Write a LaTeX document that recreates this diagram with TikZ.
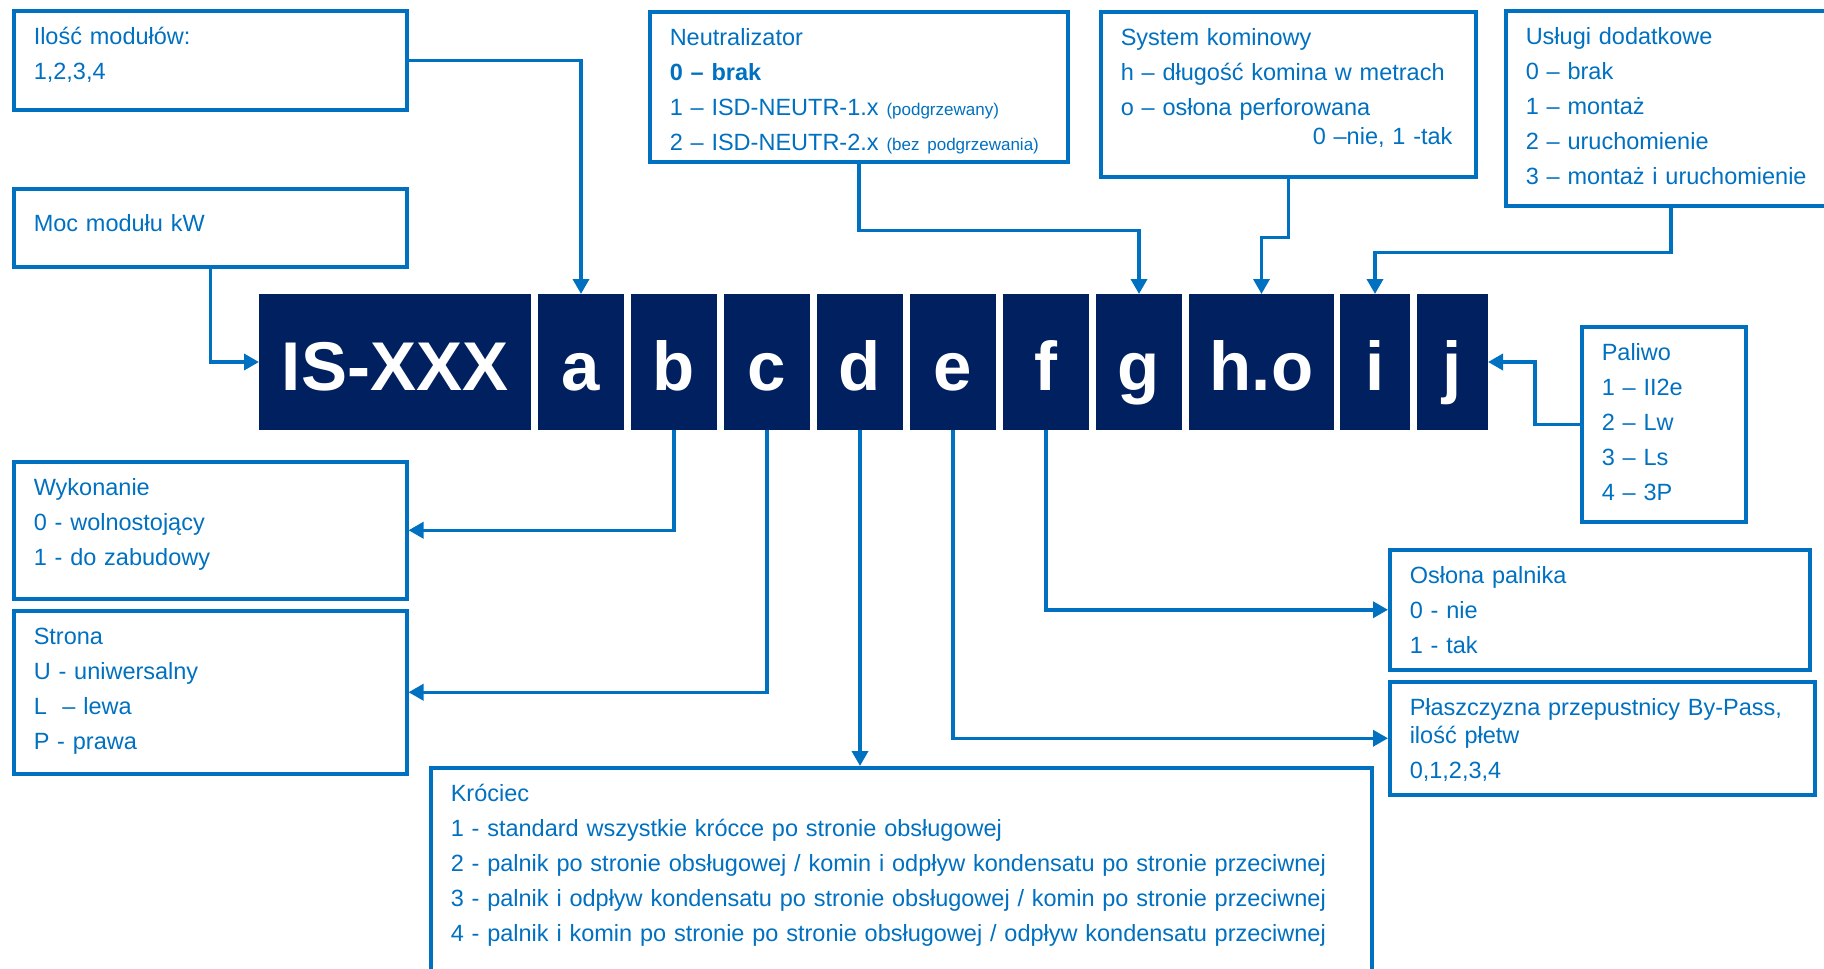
\documentclass[tikz,border=0pt]{standalone}
\usepackage{fontspec}
\setmainfont{Liberation Sans}
\usepackage{xcolor}
\usepackage{tikz}
\usetikzlibrary{shapes,arrows.meta,positioning}
\definecolor{isblue}{RGB}{0,112,192}
\definecolor{isnavy}{RGB}{0,32,96}
\newcommand{\smalltxt}[1]{{\fontsize{17}{17}\selectfont #1}}

\begin{document}
\begin{tikzpicture}[x=1pt, y=-1pt]
    \tikzstyle{block} = [anchor=north west, fill=isnavy, text=white, font=\fontsize{69}{69}\selectfont\bfseries, minimum width=86pt, minimum height=136pt, inner sep=0pt, outer sep=0pt, text height=56pt, text depth=0pt]
    \tikzstyle{infobox} = [anchor=north west, draw=isblue, line width=3.5pt, text=isblue, align=left, inner xsep=20pt, inner ysep=0pt, text height=34pt, font=\fontsize{23.5}{35}\selectfont]
    \tikzstyle{arrow} = [line width=3.5pt, isblue, -{Triangle[length=15pt,width=16pt]}]

    \useasboundingbox (0,0) rectangle (1824,969);

    % kod wyrobu
    \node (isxxx) [block, minimum width=272pt] at (259,294) {IS-XXX};
    \node (a) [block, right=7pt of isxxx] {a};
    \node (b) [block, right=7pt of a] {b};
    \node (c) [block, right=7pt of b] {c};
    \node (d) [block, right=7pt of c] {d};
    \node (e) [block, right=7pt of d] {e};
    \node (f) [block, right=7pt of e] {f};
    \node (g) [block, right=7pt of f] {g};
    \node (ho) [block, right=7pt of g, minimum width=145pt] {h.o};
    \node (i) [block, right=6pt of ho, minimum width=70pt] {i};
    \node (j) [block, right=7pt of i, minimum width=71pt] {j};

    % opisy
    \node (ilosc) [infobox, text width=353pt, text depth=65pt] at (12,9) {Ilość modułów:\\1,2,3,4};
    \node (moc) [infobox, text width=353pt, text height=43pt, text depth=35pt] at (12,187) {Moc modułu kW};
    \node (neut) [infobox, text width=378pt, text depth=116pt] at (648,10) {Neutralizator\\\textbf{0 – brak}\\1 – ISD-NEUTR-1.x \smalltxt{(podgrzewany)}\\2 – ISD-NEUTR-2.x \smalltxt{(bez podgrzewania)}};
    \node (komin) [infobox, text width=335pt, text depth=131pt] at (1099,10) {System kominowy\\h – długość komina w metrach\\o – osłona perforowana\\[-6pt]\hspace*{192pt}0 –nie, 1 -tak};
    \node (uslugi) [infobox, text width=290pt, text depth=161pt] at (1504,9) {Usługi dodatkowe\\0 – brak\\1 – montaż\\2 – uruchomienie\\3 – montaż i uruchomienie};
    \node (paliwo) [infobox, text width=124pt, text depth=161pt] at (1580,325) {Paliwo\\1 – II2e\\2 – Lw\\3 – Ls\\4 – 3P};
    \node (wyk) [infobox, text width=353pt, text depth=103pt] at (12,460) {Wykonanie\\0 - wolnostojący\\1 - do zabudowy};
    \node (strona) [infobox, text width=353pt, text depth=129pt] at (12,609) {Strona\\U - uniwersalny\\L\ \ – lewa\\P - prawa};
    \node (krociec) [infobox, text width=901pt, text depth=206pt] at (429,766) {Króciec\\1 - standard wszystkie krócce po stronie obsługowej\\2 - palnik po stronie obsługowej / komin i odpływ kondensatu po stronie przeciwnej\\3 - palnik i odpływ kondensatu po stronie obsługowej / komin po stronie przeciwnej\\4 - palnik i komin po stronie po stronie obsługowej / odpływ kondensatu przeciwnej};
    \node (oslona) [infobox, text width=380pt, text depth=86pt] at (1388,548) {Osłona palnika\\0 - nie\\1 - tak};
    \node (plasz) [infobox, text width=385pt, text depth=79pt] at (1388,680) {Płaszczyzna przepustnicy By-Pass,\\[-7pt]ilość płetw\\0,1,2,3,4};

    % polaczenia
    \draw [arrow] (ilosc.east) -| (a.north);
    \draw [arrow] (moc.south) |- (isxxx.west);
    \draw [arrow] (neut.south) -- ++(0,67) -| (g.north);
    \draw [arrow] (komin.south) -- ++(0,59) -| (ho.north);
    \draw [arrow] (uslugi.south) -- ++(0,45) -| (i.north);
    \draw [arrow] (paliwo.west) -- ++(-45,0) |- (j.east);
    \draw [arrow] (b.south) |- (wyk.east);
    \draw [arrow] (c.south) |- (strona.east);
    \draw [arrow] (d.south) -- (d.south |- krociec.north);
    \draw [arrow] (e.south) |- (plasz.west);
    \draw [arrow] (f.south) |- (oslona.west);
\end{tikzpicture}
\end{document}
